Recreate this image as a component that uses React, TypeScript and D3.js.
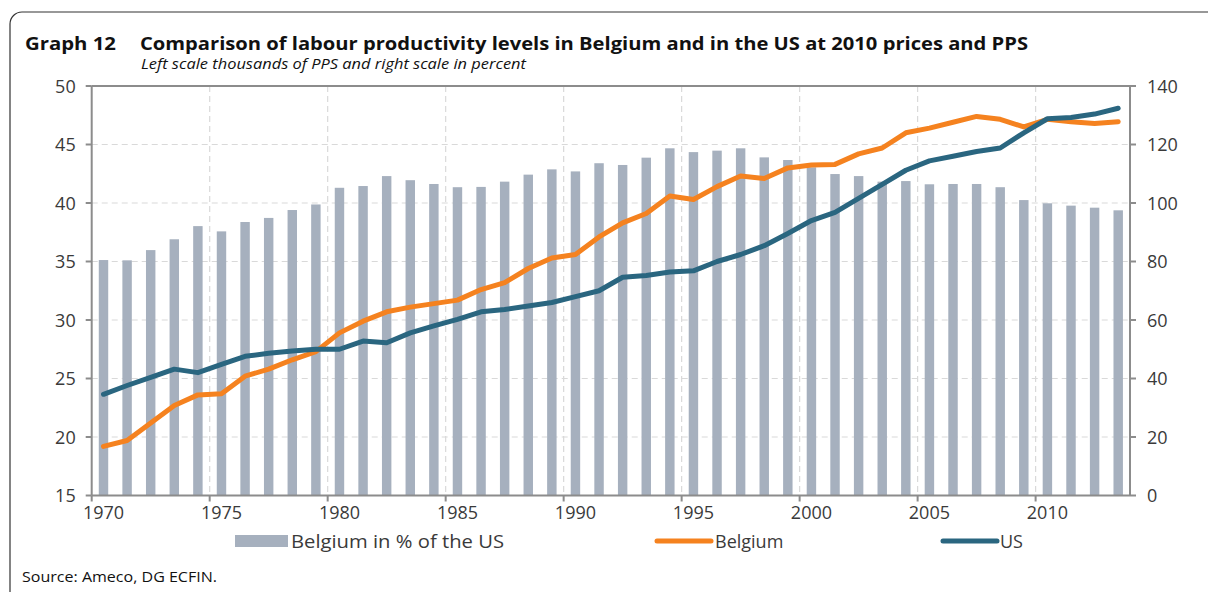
import React, { useEffect, useRef } from 'react';
import * as d3 from 'd3';

const years: number[] = d3.range(1970, 2014);

// Belgium in % of the US (right scale)
const sharePct: number[] = [
  80.5, 80.4, 83.9, 87.6, 92.1, 90.3, 93.5, 94.9, 97.6, 99.5,
  105.2, 105.8, 109.2, 107.8, 106.5, 105.4, 105.5, 107.3, 109.7, 111.5,
  110.8, 113.6, 113.0, 115.5, 118.7, 117.4, 117.9, 118.7, 115.6, 114.7,
  112.2, 109.9, 109.2, 107.3, 107.5, 106.4, 106.5, 106.5, 105.4, 101.0,
  99.9, 99.1, 98.4, 97.5,
];

// thousands of PPS (left scale)
const belgium: number[] = [
  19.2, 19.7, 21.2, 22.7, 23.6, 23.7, 25.2, 25.8, 26.6, 27.3,
  28.9, 29.9, 30.7, 31.1, 31.4, 31.7, 32.6, 33.2, 34.4, 35.3,
  35.6, 37.1, 38.3, 39.1, 40.6, 40.3, 41.4, 42.3, 42.1, 43.0,
  43.25, 43.3, 44.2, 44.7, 46.0, 46.4, 46.9, 47.4, 47.15, 46.5,
  47.15, 46.95, 46.8, 46.95,
];

const us: number[] = [
  23.65, 24.4, 25.1, 25.8, 25.5, 26.2, 26.9, 27.15, 27.35, 27.5,
  27.5, 28.2, 28.06, 28.9, 29.5, 30.06, 30.7, 30.9, 31.2, 31.5,
  32.0, 32.5, 33.65, 33.8, 34.1, 34.2, 35.0, 35.6, 36.35, 37.4,
  38.5, 39.2, 40.4, 41.6, 42.8, 43.6, 44.0, 44.4, 44.7, 46.0,
  47.2, 47.3, 47.6, 48.1,
];

const leftTicks: number[] = [15, 20, 25, 30, 35, 40, 45, 50];
const rightTicks: number[] = [0, 20, 40, 60, 80, 100, 120, 140];
const yearTicks: number[] = [1970, 1975, 1980, 1985, 1990, 1995, 2000, 2005, 2010];

const colors = {
  bar: '#a6b0be',
  belgium: '#f5821f',
  us: '#2a6680',
  axis: '#8c8c8c',
  grid: '#d9d9d9',
  text: '#3a3a3a',
  title: '#111111',
  frame: '#333333',
};

const FONT = '"Open Sans", sans-serif';

const App = () => {
  const svgRef = useRef<SVGSVGElement | null>(null);

  useEffect(() => {
    const svgEl = svgRef.current;
    if (!svgEl) return;
    const width = 1208;
    const height = 592;
    const svg = d3.select(svgEl);
    svg.attr('viewBox', `0 0 ${width} ${height}`);
    svg.selectAll('*').remove();

    const left = 91.7;
    const right = 1130;
    const top = 86;
    const bottom = 495.5;

    const x = d3.scaleBand<number>().domain(years).range([left, right]).padding(0);
    const step = x.step();
    const cx = (yr: number) => (x(yr) ?? 0) + step / 2;
    const yL = d3.scaleLinear().domain([15, 50]).range([bottom, top]);
    const yR = d3.scaleLinear().domain([0, 140]).range([bottom, top]);

    // frame
    svg.append('rect')
      .attr('x', 10).attr('y', 12)
      .attr('width', 1220).attr('height', 620)
      .attr('rx', 12)
      .attr('fill', 'none')
      .attr('stroke', colors.frame)
      .attr('stroke-width', 1.2);

    // title
    svg.append('text')
      .attr('x', 25).attr('y', 49.5)
      .attr('fill', colors.title)
      .attr('font-family', FONT)
      .attr('font-weight', 700)
      .attr('font-size', 18)
      .attr('textLength', 91)
      .attr('lengthAdjust', 'spacingAndGlyphs')
      .text('Graph 12');
    svg.append('text')
      .attr('x', 140).attr('y', 49.5)
      .attr('fill', colors.title)
      .attr('font-family', FONT)
      .attr('font-weight', 700)
      .attr('font-size', 18)
      .attr('textLength', 888)
      .attr('lengthAdjust', 'spacingAndGlyphs')
      .text('Comparison of labour productivity levels in Belgium and in the US at 2010 prices and PPS');

    svg.append('text')
      .attr('x', 141).attr('y', 69)
      .attr('fill', colors.title)
      .attr('font-family', FONT)
      .attr('font-style', 'italic')
      .attr('font-size', 14)
      .attr('textLength', 385)
      .attr('lengthAdjust', 'spacingAndGlyphs')
      .text('Left scale thousands of PPS and right scale in percent');

    // grid
    const g = svg.append('g');
    g.selectAll('.hgrid')
      .data(leftTicks.filter((t) => t > 15 && t < 50))
      .enter()
      .append('line')
      .attr('x1', left).attr('x2', right)
      .attr('y1', (d) => yL(d)).attr('y2', (d) => yL(d))
      .attr('stroke', colors.grid)
      .attr('stroke-width', 1.2)
      .attr('stroke-dasharray', '6,4');

    g.selectAll('.vgrid')
      .data(yearTicks.filter((t) => t > 1970))
      .enter()
      .append('line')
      .attr('x1', (d) => x(d) ?? 0).attr('x2', (d) => x(d) ?? 0)
      .attr('y1', top).attr('y2', bottom)
      .attr('stroke', colors.grid)
      .attr('stroke-width', 1.2)
      .attr('stroke-dasharray', '6,4');

    // bars
    const barW = step * 0.4;
    g.selectAll('.bar')
      .data(years)
      .enter()
      .append('rect')
      .attr('x', (d) => cx(d) - barW / 2)
      .attr('y', (d, i) => yR(sharePct[i]))
      .attr('width', barW)
      .attr('height', (d, i) => bottom - yR(sharePct[i]))
      .attr('fill', colors.bar);

    // lines
    const line = d3.line<number>()
      .x((d, i) => cx(years[i]))
      .y((d) => yL(d));

    g.append('path')
      .datum(belgium)
      .attr('fill', 'none')
      .attr('stroke', colors.belgium)
      .attr('stroke-width', 5)
      .attr('stroke-linejoin', 'round')
      .attr('stroke-linecap', 'round')
      .attr('d', line);

    g.append('path')
      .datum(us)
      .attr('fill', 'none')
      .attr('stroke', colors.us)
      .attr('stroke-width', 5)
      .attr('stroke-linejoin', 'round')
      .attr('stroke-linecap', 'round')
      .attr('d', line);

    // axes frame
    const ax = svg.append('g').attr('stroke', colors.axis).attr('stroke-width', 2);
    ax.append('line').attr('x1', left).attr('x2', right).attr('y1', top).attr('y2', top);
    ax.append('line').attr('x1', left).attr('x2', right).attr('y1', bottom).attr('y2', bottom);
    ax.append('line').attr('x1', left).attr('x2', left).attr('y1', top).attr('y2', bottom);
    ax.append('line').attr('x1', right).attr('x2', right).attr('y1', top).attr('y2', bottom);

    // left ticks
    ax.selectAll('.lt')
      .data(leftTicks)
      .enter()
      .append('line')
      .attr('x1', left - 6).attr('x2', left)
      .attr('y1', (d) => yL(d)).attr('y2', (d) => yL(d));
    svg.selectAll('.ltl')
      .data(leftTicks)
      .enter()
      .append('text')
      .attr('x', left - 16)
      .attr('y', (d) => yL(d) + 6.5)
      .attr('text-anchor', 'end')
      .attr('fill', colors.text)
      .attr('font-family', FONT)
      .attr('font-size', 18)
      .text((d) => d);

    // right ticks
    ax.selectAll('.rt')
      .data(rightTicks)
      .enter()
      .append('line')
      .attr('x1', right).attr('x2', right + 6)
      .attr('y1', (d) => yR(d)).attr('y2', (d) => yR(d));
    svg.selectAll('.rtl')
      .data(rightTicks)
      .enter()
      .append('text')
      .attr('x', right + 17)
      .attr('y', (d) => yR(d) + 6.5)
      .attr('fill', colors.text)
      .attr('font-family', FONT)
      .attr('font-size', 18)
      .text((d) => d);

    // bottom ticks
    ax.selectAll('.bt')
      .data(yearTicks)
      .enter()
      .append('line')
      .attr('x1', (d) => x(d) ?? 0).attr('x2', (d) => x(d) ?? 0)
      .attr('y1', bottom).attr('y2', bottom + 6);
    svg.selectAll('.btl')
      .data(yearTicks)
      .enter()
      .append('text')
      .attr('x', (d) => cx(d))
      .attr('y', bottom + 23)
      .attr('text-anchor', 'middle')
      .attr('fill', colors.text)
      .attr('font-family', FONT)
      .attr('font-size', 18)
      .text((d) => d);

    // legend
    const lg = svg.append('g').attr('font-family', FONT).attr('font-size', 18).attr('fill', colors.text);
    lg.append('rect').attr('x', 235).attr('y', 535).attr('width', 53).attr('height', 12).attr('fill', colors.bar);
    lg.append('text').attr('x', 291).attr('y', 548)
      .attr('textLength', 213).attr('lengthAdjust', 'spacingAndGlyphs')
      .text('Belgium in % of the US');
    lg.append('line').attr('x1', 657).attr('x2', 711).attr('y1', 541).attr('y2', 541)
      .attr('stroke', colors.belgium).attr('stroke-width', 5).attr('stroke-linecap', 'round');
    lg.append('text').attr('x', 715).attr('y', 548).text('Belgium');
    lg.append('line').attr('x1', 943).attr('x2', 997).attr('y1', 541).attr('y2', 541)
      .attr('stroke', colors.us).attr('stroke-width', 5).attr('stroke-linecap', 'round');
    lg.append('text').attr('x', 1000).attr('y', 548).text('US');

    // source
    svg.append('text')
      .attr('x', 22).attr('y', 582)
      .attr('fill', colors.title)
      .attr('font-family', FONT)
      .attr('font-size', 14)
      .attr('textLength', 195)
      .attr('lengthAdjust', 'spacingAndGlyphs')
      .text('Source: Ameco, DG ECFIN.');
  }, []);

  return (
    <svg
      ref={svgRef}
      width={1208}
      height={592}
      style={{ position: 'absolute', left: 0, top: 0, display: 'block', background: '#fff' }}
    />
  );
};

export default App;
